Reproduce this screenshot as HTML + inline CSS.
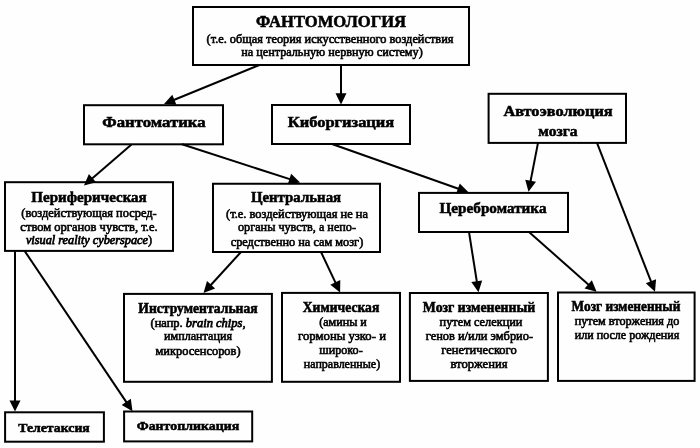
<!DOCTYPE html>
<html><head><meta charset="utf-8">
<style>
html,body{margin:0;padding:0;background:#fefefe;}
body{width:700px;height:448px;position:relative;overflow:hidden;font-family:"Liberation Serif",serif;color:#000;will-change:transform;}
.t{position:absolute;white-space:nowrap;text-align:center;line-height:1;width:300px;}
.h{font-weight:bold;-webkit-text-stroke:0.55px #000;}
.d{-webkit-text-stroke:0.6px #000;}
i{font-style:italic;-webkit-text-stroke:0.75px #000;}
svg{position:absolute;left:0;top:0;}
</style></head><body>
<svg width="700" height="448" viewBox="0 0 700 448">
<g stroke="#000" stroke-width="2" fill="none">
<rect x="193" y="7" width="276.00" height="58.00"/>
<rect x="84" y="105.2" width="139.00" height="39.10"/>
<rect x="272" y="105" width="138.00" height="39.00"/>
<rect x="488.6" y="93.8" width="137.40" height="49.10"/>
<rect x="5" y="182.2" width="168.00" height="68.70"/>
<rect x="213" y="183.75" width="167.00" height="68.25"/>
<rect x="419" y="192.9" width="149.00" height="39.10"/>
<rect x="124" y="293.9" width="147.90" height="87.90"/>
<rect x="282" y="292.9" width="118.00" height="88.90"/>
<rect x="409.9" y="293" width="138.00" height="87.90"/>
<rect x="558" y="292.5" width="136.60" height="88.40"/>
<rect x="5.1" y="412.3" width="98.80" height="29.40"/>
<rect x="124.1" y="411.5" width="128.10" height="29.90"/>
<line x1="259.5" y1="65" x2="172.52" y2="100.52"/>
<line x1="341" y1="65" x2="341.00" y2="95.30"/>
<line x1="131.5" y1="144.5" x2="90.97" y2="179.40"/>
<line x1="182" y1="144.3" x2="291.35" y2="179.67"/>
<line x1="332" y1="144" x2="459.83" y2="189.23"/>
<line x1="538" y1="142.9" x2="530.25" y2="182.77"/>
<line x1="597" y1="142.9" x2="651.66" y2="283.23"/>
<line x1="469" y1="232" x2="477.07" y2="283.21"/>
<line x1="529" y1="232" x2="589.71" y2="285.70"/>
<line x1="241" y1="252" x2="209.71" y2="286.21"/>
<line x1="321" y1="252" x2="336.17" y2="284.08"/>
<line x1="15" y1="250.9" x2="15.00" y2="402.40"/>
<line x1="24.6" y1="250.9" x2="127.36" y2="403.57"/>
</g>
<g fill="#000" stroke="none">
<path d="M164.00,104.00 L172.29,94.67 L176.45,104.86 Z"/>
<path d="M341.00,104.50 L335.50,93.30 L346.50,93.30 Z"/>
<path d="M84.00,185.40 L88.90,173.92 L96.08,182.26 Z"/>
<path d="M300.10,182.50 L287.75,184.29 L291.14,173.82 Z"/>
<path d="M468.50,192.30 L456.11,193.75 L459.78,183.38 Z"/>
<path d="M528.50,191.80 L525.24,179.76 L536.03,181.85 Z"/>
<path d="M655.00,291.80 L645.81,283.36 L656.06,279.37 Z"/>
<path d="M478.50,292.30 L471.32,282.09 L482.19,280.38 Z"/>
<path d="M596.60,291.80 L584.57,288.50 L591.86,280.26 Z"/>
<path d="M203.50,293.00 L207.00,281.02 L215.12,288.45 Z"/>
<path d="M340.10,292.40 L330.34,284.63 L340.29,279.92 Z"/>
<path d="M15.00,411.60 L9.50,400.40 L20.50,400.40 Z"/>
<path d="M132.50,411.20 L121.68,404.98 L130.81,398.84 Z"/>
</g>
</svg>

<div class="t h" style="left:180.50px;top:13.82px;font-size:16.7px;transform:scaleX(0.9934);">ФАНТОМОЛОГИЯ</div>
<div class="t d" style="left:179.70px;top:32.62px;font-size:12.4px;transform:scaleX(0.9952);">(т.е. общая теория искусственного воздействия</div>
<div class="t d" style="left:181.60px;top:46.22px;font-size:12.4px;transform:scaleX(0.9842);">на центральную нервную систему)</div>
<div class="t h" style="left:3.60px;top:114.17px;font-size:15.2px;transform:scaleX(1.1022);">Фантоматика</div>
<div class="t h" style="left:190.60px;top:113.87px;font-size:15.2px;transform:scaleX(1.0838);">Киборгизация</div>
<div class="t h" style="left:407.50px;top:103.37px;font-size:15.2px;transform:scaleX(1.0736);">Автоэволюция</div>
<div class="t h" style="left:407.50px;top:122.87px;font-size:15.2px;transform:scaleX(1.0256);">мозга</div>
<div class="t h" style="left:-61.30px;top:188.69px;font-size:15.3px;transform:scaleX(0.9812);">Периферическая</div>
<div class="t d" style="left:-61.00px;top:206.72px;font-size:12.4px;">(воздействующая посред-</div>
<div class="t d" style="left:-61.10px;top:220.52px;font-size:12.4px;transform:scaleX(1.0119);">ством органов чувств, т.е.</div>
<div class="t d" style="left:-61.00px;top:233.82px;font-size:12.4px;transform:scaleX(0.9891);"><i>visual reality cyberspace</i>)</div>
<div class="t h" style="left:145.90px;top:189.39px;font-size:15.3px;transform:scaleX(0.9710);">Центральная</div>
<div class="t d" style="left:147.00px;top:207.52px;font-size:12.4px;transform:scaleX(1.0036);">(т.е. воздействующая не на</div>
<div class="t d" style="left:146.50px;top:221.12px;font-size:12.4px;transform:scaleX(0.9842);">органы чувств, а непо-</div>
<div class="t d" style="left:146.90px;top:236.02px;font-size:12.4px;transform:scaleX(0.9925);">средственно на сам мозг)</div>
<div class="t h" style="left:342.90px;top:199.59px;font-size:15.3px;transform:scaleX(0.9944);">Цереброматика</div>
<div class="t h" style="left:48.10px;top:301.56px;font-size:13.9px;transform:scaleX(0.9820);">Инструментальная</div>
<div class="t d" style="left:48.00px;top:316.62px;font-size:12.4px;transform:scaleX(1.0076);">(напр. <i>brain chips</i>,</div>
<div class="t d" style="left:48.20px;top:330.12px;font-size:12.4px;transform:scaleX(0.9789);">имплантация</div>
<div class="t d" style="left:48.00px;top:345.02px;font-size:12.4px;">микросенсоров)</div>
<div class="t h" style="left:191.20px;top:300.86px;font-size:13.9px;transform:scaleX(0.9797);">Химическая</div>
<div class="t d" style="left:192.60px;top:316.42px;font-size:12.4px;transform:scaleX(0.9781);">(амины и</div>
<div class="t d" style="left:191.90px;top:330.12px;font-size:12.4px;transform:scaleX(1.0272);">гормоны узко- и</div>
<div class="t d" style="left:191.00px;top:344.22px;font-size:12.4px;transform:scaleX(0.9797);">широко-</div>
<div class="t d" style="left:191.90px;top:357.92px;font-size:12.4px;transform:scaleX(0.9673);">направленные)</div>
<div class="t h" style="left:328.70px;top:300.66px;font-size:13.9px;transform:scaleX(0.9912);">Мозг измененный</div>
<div class="t d" style="left:331.10px;top:315.62px;font-size:12.4px;transform:scaleX(0.9929);">путем селекции</div>
<div class="t d" style="left:329.40px;top:330.02px;font-size:12.4px;">генов и/или эмбрио-</div>
<div class="t d" style="left:328.90px;top:344.12px;font-size:12.4px;transform:scaleX(1.0082);">генетического</div>
<div class="t d" style="left:329.10px;top:357.92px;font-size:12.4px;transform:scaleX(1.0198);">вторжения</div>
<div class="t h" style="left:475.70px;top:300.16px;font-size:13.9px;transform:scaleX(0.9602);">Мозг измененный</div>
<div class="t d" style="left:476.90px;top:315.42px;font-size:12.4px;transform:scaleX(0.9840);">путем вторжения до</div>
<div class="t d" style="left:477.20px;top:328.92px;font-size:12.4px;transform:scaleX(0.9739);">или после рождения</div>
<div class="t h" style="left:-95.80px;top:420.65px;font-size:13.2px;transform:scaleX(1.0450);">Телетаксия</div>
<div class="t h" style="left:38.20px;top:419.45px;font-size:13.2px;transform:scaleX(1.0532);">Фантопликация</div>
</body></html>
